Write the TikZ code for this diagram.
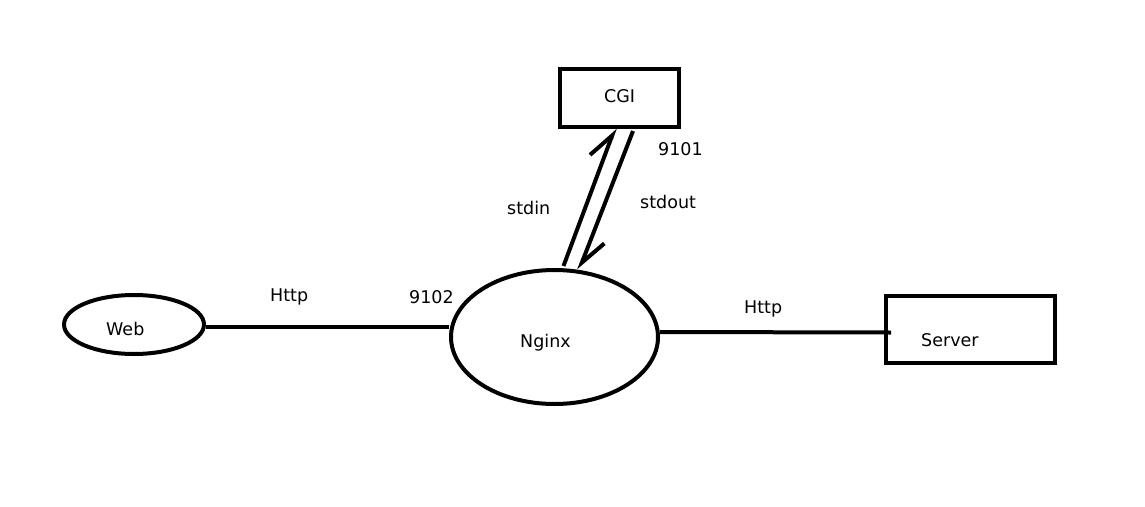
\documentclass[tikz,border=0pt]{standalone}
\usepackage{fontspec}
\setmainfont{DejaVu Sans}
\usetikzlibrary{shapes.geometric,arrows.meta}
\begin{document}
\begin{tikzpicture}[x=1pt,y=-1pt,
  shapeline/.style={draw=black,line width=4pt,inner sep=0pt},
  ell/.style={shapeline,ellipse},
  box/.style={shapeline,rectangle},
  lbl/.style={anchor=base west,inner sep=0pt,font=\fontsize{17.5}{20}\selectfont},
  conn/.style={line width=4pt},
  barb/.style={conn,-{Straight Barb[left,length=26pt,width=28pt,line width=4pt]}}
]
\useasboundingbox[fill=white] (0,0) rectangle (1145,506);
% shapes
\node[box,minimum width=119pt,minimum height=58pt] (cgi) at (619.5,98) {};
\node[ell,minimum width=140pt,minimum height=59pt] (web) at (134,324.5) {};
\node[ell,minimum width=207pt,minimum height=134pt] (nginx) at (554.5,337) {};
\node[box,minimum width=169pt,minimum height=67pt] (server) at (970.5,329.5) {};
% texts
\node[lbl] (tcgi) at (604,102) {CGI};
\node[lbl] (tweb) at (106,335) {Web};
\node[lbl] (tnginx) at (520,347) {Nginx};
\node[lbl] (tserver) at (921,346) {Server};
\node[lbl] (t9101) at (658,155) {9101};
\node[lbl] (tstdin) at (507,214) {stdin};
\node[lbl] (tstdout) at (640,208) {stdout};
\node[lbl] (thttpl) at (270,301) {Http};
\node[lbl] (t9102) at (409,303) {9102};
\node[lbl] (thttpr) at (744,313) {Http};
% connectors
\draw[conn] ([yshift=-2pt]web.east) -- ([yshift=-2pt]web.east -| nginx.west);
\draw[conn] ([yshift=5pt]nginx.east) -- ([xshift=7pt,yshift=-3pt]server.west);
\draw[barb] ([xshift=9pt,yshift=2pt]nginx.north) -- ([xshift=-4.5pt,yshift=1pt]cgi.south);
\draw[barb] ([xshift=13.5pt,yshift=-2pt]cgi.south) -- ([xshift=24.5pt,yshift=-2pt]nginx.north);
\end{tikzpicture}
\end{document}
